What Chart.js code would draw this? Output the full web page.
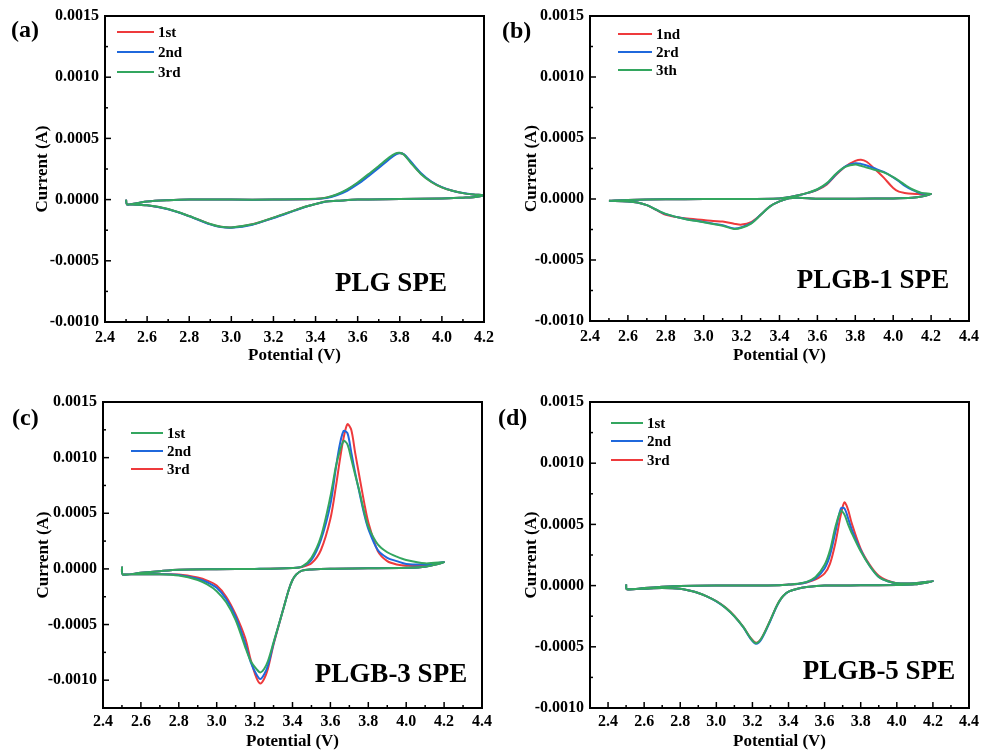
<!DOCTYPE html>
<html>
<head>
<meta charset="utf-8">
<script src="https://cdn.jsdelivr.net/npm/chart.js@4.4.1/dist/chart.umd.min.js"></script>
<style>
  body { margin: 0; background: #fff; width: 981px; height: 753px; position: relative; overflow: hidden; }
  canvas { position: absolute; }
</style>
</head>
<body>
<canvas id="cvA" width="500" height="376" style="left:0;top:0"></canvas>
<canvas id="cvB" width="491" height="376" style="left:490px;top:0"></canvas>
<canvas id="cvC" width="500" height="377" style="left:0;top:376px"></canvas>
<canvas id="cvD" width="491" height="377" style="left:490px;top:376px"></canvas>
<script>
/* -----------------------
   DATA
------------------------*/
const RED = "#ee3a3c", BLUE = "#1f68dc", GREEN = "#33a65f";

/* (a) PLG SPE : forward scan 2.5 -> 4.2, then back to 2.5 */
const potentialA = [2.5, 2.505, 2.55, 2.6, 2.7, 2.8, 3.0, 3.2, 3.4, 3.45, 3.5, 3.55, 3.6, 3.65, 3.7, 3.75, 3.78, 3.8, 3.82, 3.85, 3.9, 3.95, 4.0, 4.05, 4.1, 4.15, 4.2,
  4.15, 4.1, 4.0, 3.8, 3.6, 3.5, 3.45, 3.4, 3.35, 3.3, 3.2, 3.1, 3.0, 2.95, 2.9, 2.8, 2.7, 2.6, 2.5];
const currentA1 = [0, -0.00004, -0.00003, -0.000015, -0.000005, 0, 0, 0, 0.000005, 0.000015, 0.00004, 0.00008, 0.000135, 0.0002, 0.000268, 0.000338, 0.000372, 0.00038, 0.000368, 0.00031, 0.000212, 0.000145, 0.0001, 0.000072, 0.000053, 0.000042, 0.000035,
  0.00002, 0.000016, 0.00001, 0.000005, 0, -0.00001, -0.000015, -0.000036, -0.000058, -0.000088, -0.000148, -0.000202, -0.000228, -0.000222, -0.0002, -0.000135, -0.000078, -0.000047, -0.000037];
const currentA2 = [0, -0.00004, -0.00003, -0.000015, -0.000005, 0, 0, 0, 0.000005, 0.000012, 0.000035, 0.000072, 0.000125, 0.00019, 0.000258, 0.00033, 0.000368, 0.000379, 0.00037, 0.000315, 0.000218, 0.000148, 0.000102, 0.000073, 0.000054, 0.000042, 0.000035,
  0.00002, 0.000016, 0.00001, 0.000005, 0, -0.00001, -0.000015, -0.000037, -0.00006, -0.00009, -0.00015, -0.000205, -0.00023, -0.000224, -0.000202, -0.000136, -0.000079, -0.000047, -0.000037];
const currentA3 = [0, -0.00004, -0.00003, -0.000015, -0.000005, 0, 0, 0, 0.000006, 0.000016, 0.000042, 0.000084, 0.00014, 0.000206, 0.000275, 0.000345, 0.000378, 0.000383, 0.000366, 0.000305, 0.00021, 0.000144, 0.0001, 0.000072, 0.000053, 0.000042, 0.000035,
  0.00002, 0.000016, 0.00001, 0.000005, 0, -0.00001, -0.000015, -0.000036, -0.000058, -0.000088, -0.000147, -0.000202, -0.000227, -0.000221, -0.000199, -0.000134, -0.000077, -0.000046, -0.000037];
const labelsA = ["1st", "2nd", "3rd"];

/* (b) PLGB-1 SPE */
const potentialB = [2.5, 2.6, 2.8, 3.0, 3.2, 3.4, 3.45, 3.5, 3.55, 3.6, 3.65, 3.7, 3.75, 3.8, 3.83, 3.86, 3.9, 3.95, 4.0, 4.03, 4.06, 4.1, 4.15, 4.2,
  4.15, 4.1, 4.0, 3.8, 3.6, 3.5, 3.45, 3.4, 3.35, 3.3, 3.25, 3.2, 3.16, 3.1, 3.05, 3.0, 2.9, 2.8, 2.75, 2.7, 2.65, 2.6, 2.5];
const currentB1 = [-0.000015, -0.000008, -0.000003, 0, 0, 0.000005, 0.000015, 0.00003, 0.00005, 0.000075, 0.00012, 0.0002, 0.000268, 0.000312, 0.000322, 0.000305, 0.00025, 0.000175, 0.00009, 0.00006, 0.00005, 0.000043, 0.00004, 0.00004,
  0.00002, 0.00001, 0.000005, 0.000003, 0.000002, 0.00001, 0.000005, -0.00002, -0.00006, -0.00013, -0.00019, -0.00021, -0.000202, -0.000184, -0.00018, -0.000172, -0.000158, -0.00013, -0.00009, -0.00005, -0.000028, -0.00002, -0.000015];
const currentB2 = [-0.000015, -0.000008, -0.000003, 0, 0, 0.000005, 0.000015, 0.00003, 0.00005, 0.000078, 0.000125, 0.000205, 0.00027, 0.000293, 0.000288, 0.000274, 0.000252, 0.000222, 0.000178, 0.000145, 0.00011, 0.000075, 0.000045, 0.00004,
  0.00002, 0.00001, 0.000005, 0.000003, 0.000002, 0.00001, 0.000005, -0.00002, -0.00006, -0.00013, -0.000198, -0.000232, -0.000242, -0.000215, -0.000202, -0.000188, -0.000162, -0.000124, -0.000088, -0.00005, -0.000028, -0.00002, -0.000015];
const currentB3 = [-0.000015, -0.000008, -0.000003, 0, 0, 0.000005, 0.000015, 0.00003, 0.000052, 0.00008, 0.00013, 0.00021, 0.000265, 0.000282, 0.000272, 0.000258, 0.00024, 0.000218, 0.00018, 0.00015, 0.000118, 0.00008, 0.00005, 0.00004,
  0.00002, 0.00001, 0.000005, 0.000003, 0.000002, 0.00001, 0.000005, -0.00002, -0.00006, -0.000132, -0.000202, -0.000236, -0.000246, -0.00022, -0.000205, -0.00019, -0.000164, -0.000122, -0.000088, -0.00005, -0.000028, -0.00002, -0.000015];
const labelsB = ["1nd", "2rd", "3th"];

/* (c) PLGB-3 SPE */
const potentialC = [2.5, 2.505, 2.6, 2.7, 2.8, 3.0, 3.2, 3.4, 3.45, 3.5, 3.55, 3.6, 3.63, 3.65, 3.67, 3.69, 3.71, 3.73, 3.75, 3.78, 3.8, 3.85, 3.9, 3.95, 4.0, 4.1, 4.2,
  4.1, 4.0, 3.8, 3.6, 3.5, 3.45, 3.42, 3.4, 3.38, 3.35, 3.3, 3.27, 3.25, 3.23, 3.21, 3.18, 3.15, 3.1, 3.05, 3.0, 2.95, 2.9, 2.8, 2.7, 2.6, 2.5];
const currentC1 = [0.00002, -0.00005, -0.000035, -0.00002, -0.000008, -0.000003, 0, 0.000008, 0.00002, 0.0001, 0.00029, 0.00065, 0.00093, 0.00106, 0.00115, 0.00112, 0.00099, 0.00085, 0.00072, 0.0005, 0.00038, 0.00022, 0.00015, 0.00011, 0.00008, 0.00005, 0.00006,
  0.00002, 0.00001, 0.000005, 0.000002, -0.000005, -0.000015, -0.00005, -0.0001, -0.00019, -0.00037, -0.00066, -0.00083, -0.0009, -0.00093, -0.0009, -0.00083, -0.0007, -0.00046, -0.0003, -0.0002, -0.00014, -0.0001, -0.00006, -0.000048, -0.000048, -0.00005];
const currentC2 = [0.00002, -0.00005, -0.000035, -0.00002, -0.000008, -0.000003, 0, 0.000008, 0.00002, 0.00008, 0.00026, 0.00058, 0.00092, 0.00112, 0.00124, 0.00122, 0.00105, 0.00087, 0.00071, 0.00048, 0.00036, 0.00017, 0.0001, 0.00007, 0.000045, 0.00004, 0.00006,
  0.00002, 0.00001, 0.000005, 0.000002, -0.000005, -0.000015, -0.00005, -0.0001, -0.00019, -0.00037, -0.00067, -0.00087, -0.00095, -0.00099, -0.00095, -0.00084, -0.00067, -0.00043, -0.00027, -0.00017, -0.00012, -0.000088, -0.000055, -0.000048, -0.000048, -0.00005];
const currentC3 = [0.00002, -0.00005, -0.000035, -0.00002, -0.000008, -0.000003, 0, 0.000008, 0.000018, 0.00005, 0.00017, 0.00045, 0.00075, 0.00098, 0.00118, 0.0013, 0.00125, 0.00105, 0.00086, 0.00058, 0.00042, 0.00016, 0.00007, 0.00004, 0.00003, 0.000035, 0.00006,
  0.00002, 0.00001, 0.000005, 0.000002, -0.000005, -0.000015, -0.00005, -0.0001, -0.00019, -0.00037, -0.00068, -0.0009, -0.00099, -0.00103, -0.00098, -0.00082, -0.00062, -0.00041, -0.00025, -0.00015, -0.000105, -0.000078, -0.00005, -0.000048, -0.000048, -0.00005];
const labelsC = ["1st", "2nd", "3rd"];

/* (d) PLGB-5 SPE */
const potentialD = [2.5, 2.505, 2.6, 2.7, 2.8, 3.0, 3.2, 3.35, 3.4, 3.45, 3.5, 3.55, 3.6, 3.63, 3.66, 3.69, 3.71, 3.73, 3.75, 3.8, 3.85, 3.9, 3.95, 4.0, 4.1, 4.2,
  4.1, 4.0, 3.8, 3.6, 3.5, 3.45, 3.4, 3.37, 3.35, 3.33, 3.3, 3.25, 3.22, 3.19, 3.15, 3.1, 3.05, 3.0, 2.95, 2.9, 2.85, 2.8, 2.7, 2.6, 2.5];
const currentD1 = [0.00001, -0.00003, -0.00002, -0.00001, -0.000003, 0, 0, 0.000003, 0.000008, 0.000015, 0.00003, 0.00007, 0.00017, 0.00029, 0.00048, 0.00061, 0.00058, 0.0005, 0.00043, 0.00028, 0.00016, 0.00007, 0.000035, 0.00002, 0.00002, 0.000035,
  0.00001, 0.000005, 0.000002, 0, -0.000012, -0.000025, -0.00005, -0.000085, -0.000125, -0.00018, -0.00028, -0.00043, -0.00047, -0.00043, -0.00034, -0.00025, -0.00018, -0.000128, -0.00009, -0.00006, -0.00004, -0.000025, -0.00002, -0.000025, -0.00003];
const currentD2 = [0.00001, -0.00003, -0.00002, -0.00001, -0.000003, 0, 0, 0.000003, 0.000008, 0.000014, 0.000028, 0.00006, 0.00014, 0.00025, 0.00044, 0.00063, 0.00063, 0.00055, 0.00046, 0.00029, 0.00016, 0.00007, 0.000035, 0.00002, 0.00002, 0.000035,
  0.00001, 0.000005, 0.000002, 0, -0.000012, -0.000025, -0.00005, -0.000086, -0.000127, -0.000183, -0.000285, -0.000438, -0.000475, -0.000435, -0.000342, -0.000252, -0.000181, -0.000129, -0.00009, -0.00006, -0.00004, -0.000025, -0.00002, -0.000025, -0.00003];
const currentD3 = [0.00001, -0.00003, -0.00002, -0.00001, -0.000003, 0, 0, 0.000003, 0.000008, 0.000013, 0.000025, 0.00005, 0.0001, 0.00018, 0.00035, 0.00058, 0.00068, 0.00062, 0.00051, 0.0003, 0.00017, 0.00008, 0.00004, 0.00002, 0.00002, 0.000035,
  0.00001, 0.000005, 0.000002, 0, -0.000012, -0.000025, -0.00005, -0.000085, -0.000125, -0.00018, -0.00028, -0.00043, -0.000466, -0.000428, -0.000338, -0.000248, -0.000178, -0.000127, -0.00009, -0.00006, -0.00004, -0.000025, -0.00002, -0.000025, -0.00003];
const labelsD = ["1st", "2nd", "3rd"];

/* -----------------------
   DRAWING
------------------------*/
const SERIF = "'Liberation Serif', 'Times New Roman', serif";
Chart.defaults.font.family = SERIF;
Chart.defaults.color = "#000";

function nearMultiple(v, step) {
  return Math.abs(v / step - Math.round(v / step)) < 1e-6;
}

/* frame, inward ticks, legend, panel letter and sample name */
const decorPlugin = {
  id: "decor",
  afterDatasetsDraw(chart, args, o) {
    const ctx = chart.ctx;
    const a = chart.chartArea;
    ctx.save();
    ctx.strokeStyle = "#000";

    ctx.lineWidth = 1.5;
    const xs = chart.scales.x, ys = chart.scales.y;
    xs.ticks.forEach(t => {
      const px = xs.getPixelForValue(t.value);
      const len = nearMultiple(t.value, 0.2) ? 6 : 3;
      ctx.beginPath(); ctx.moveTo(px, a.bottom); ctx.lineTo(px, a.bottom - len); ctx.stroke();
    });
    ys.ticks.forEach(t => {
      const py = ys.getPixelForValue(t.value);
      const len = nearMultiple(t.value, 0.0005) ? 6 : 3;
      ctx.beginPath(); ctx.moveTo(a.left, py); ctx.lineTo(a.left + len, py); ctx.stroke();
    });

    ctx.lineWidth = 2;
    ctx.strokeRect(a.left, a.top, a.right - a.left, a.bottom - a.top);

    // legend
    ctx.font = "bold 15px " + SERIF;
    ctx.textBaseline = "middle";
    ctx.textAlign = "left";
    chart.data.datasets.forEach((ds, i) => {
      const y = o.legend.rows[i];
      ctx.strokeStyle = ds.borderColor;
      ctx.lineWidth = 2;
      ctx.beginPath(); ctx.moveTo(o.legend.x0, y); ctx.lineTo(o.legend.x1, y); ctx.stroke();
      ctx.fillStyle = "#000";
      ctx.fillText(ds.label, o.legend.tx, y + 1);
    });

    ctx.font = "bold 24px " + SERIF;
    ctx.fillText(o.letter.text, o.letter.x, o.letter.y);

    ctx.font = "bold 27px " + SERIF;
    ctx.textAlign = "center";
    ctx.fillText(o.name.text, o.name.x, o.name.y);
    ctx.restore();
  }
};

function createPanel(canvasId, p) {
  const datasets = p.series.map(s => ({
    label: s.label,
    data: p.potential.map((v, i) => ({ x: v, y: s.current[i] })),
    borderColor: s.color,
    backgroundColor: s.color,
    borderWidth: 2,
    pointRadius: 0,
    showLine: true,
    tension: 0.3,
    order: s.order
  }));

  return new Chart(document.getElementById(canvasId), {
    type: "scatter",
    data: { datasets },
    options: {
      responsive: false,
      animation: false,
      events: [],
      layout: { padding: { left: 0, top: p.area.top, right: p.area.right, bottom: 0 } },
      plugins: {
        legend: { display: false },
        tooltip: { enabled: false },
        decor: p.decor
      },
      scales: {
        x: {
          type: "linear",
          min: p.xMin, max: p.xMax,
          grid: { display: false, drawTicks: false },
          border: { display: false },
          ticks: {
            stepSize: 0.1, autoSkip: false, maxRotation: 0, padding: p.xPad,
            font: { size: 16, weight: "bold" }, color: "#000",
            callback: v => nearMultiple(v, 0.2) ? v.toFixed(1) : ""
          },
          title: {
            display: true, text: "Potential (V)", color: "#000",
            font: { size: 17, weight: "bold" },
            padding: { top: 0, bottom: p.xTitlePad }
          },
          afterFit: s => { s.height = p.area.xHeight; s.paddingLeft = 0; s.paddingRight = 0; }
        },
        y: {
          type: "linear",
          min: p.yMin, max: 0.0015,
          grid: { display: false, drawTicks: false },
          border: { display: false },
          ticks: {
            stepSize: 0.00025, autoSkip: false, padding: 6,
            font: { size: 16, weight: "bold" }, color: "#000",
            callback: v => nearMultiple(v, 0.0005) ? v.toFixed(4) : ""
          },
          title: {
            display: true, text: "Current (A)", color: "#000",
            font: { size: 17, weight: "bold" },
            padding: { top: p.yTitlePad, bottom: 0 }
          },
          afterFit: s => { s.width = p.area.left; s.paddingTop = 0; s.paddingBottom = 0; }
        }
      }
    },
    plugins: [decorPlugin]
  });
}

/* CREATE ALL 4 PANELS */
createPanel("cvA", {
  potential: potentialA,
  series: [
    { label: labelsA[0], current: currentA1, color: RED, order: 2 },
    { label: labelsA[1], current: currentA2, color: BLUE, order: 1 },
    { label: labelsA[2], current: currentA3, color: GREEN, order: 0 }
  ],
  xMin: 2.4, xMax: 4.2, yMin: -0.001,
  area: { left: 105, top: 16, right: 16, xHeight: 54 },
  xPad: 6, xTitlePad: 10, yTitlePad: 32,
  decor: {
    legend: { x0: 117, x1: 154, tx: 158, rows: [32, 52, 72] },
    letter: { text: "(a)", x: 11, y: 31 },
    name: { text: "PLG SPE", x: 391, y: 284 }
  }
});

createPanel("cvB", {
  potential: potentialB,
  series: [
    { label: labelsB[0], current: currentB1, color: RED, order: 2 },
    { label: labelsB[1], current: currentB2, color: BLUE, order: 1 },
    { label: labelsB[2], current: currentB3, color: GREEN, order: 0 }
  ],
  xMin: 2.4, xMax: 4.4, yMin: -0.001,
  area: { left: 100, top: 16, right: 12, xHeight: 55 },
  xPad: 6, xTitlePad: 10, yTitlePad: 31,
  decor: {
    legend: { x0: 128, x1: 162, tx: 166, rows: [34, 52, 70] },
    letter: { text: "(b)", x: 12, y: 32 },
    name: { text: "PLGB-1 SPE", x: 383, y: 281 }
  }
});

createPanel("cvC", {
  potential: potentialC,
  series: [
    { label: labelsC[0], current: currentC1, color: GREEN, order: 0 },
    { label: labelsC[1], current: currentC2, color: BLUE, order: 1 },
    { label: labelsC[2], current: currentC3, color: RED, order: 2 }
  ],
  xMin: 2.4, xMax: 4.4, yMin: -0.00125,
  area: { left: 103, top: 26, right: 18, xHeight: 45 },
  xPad: 4, xTitlePad: 1, yTitlePad: 33,
  decor: {
    legend: { x0: 131, x1: 163, tx: 167, rows: [57, 75, 93] },
    letter: { text: "(c)", x: 12, y: 43 },
    name: { text: "PLGB-3 SPE", x: 391, y: 299 }
  }
});

createPanel("cvD", {
  potential: potentialD,
  series: [
    { label: labelsD[0], current: currentD1, color: GREEN, order: 0 },
    { label: labelsD[1], current: currentD2, color: BLUE, order: 1 },
    { label: labelsD[2], current: currentD3, color: RED, order: 2 }
  ],
  xMin: 2.3, xMax: 4.4, yMin: -0.001,
  area: { left: 100, top: 26, right: 12, xHeight: 45 },
  xPad: 4, xTitlePad: 1, yTitlePad: 31,
  decor: {
    legend: { x0: 121, x1: 153, tx: 157, rows: [47, 65, 84] },
    letter: { text: "(d)", x: 8, y: 43 },
    name: { text: "PLGB-5 SPE", x: 389, y: 296 }
  }
});
</script>
</body>
</html>
